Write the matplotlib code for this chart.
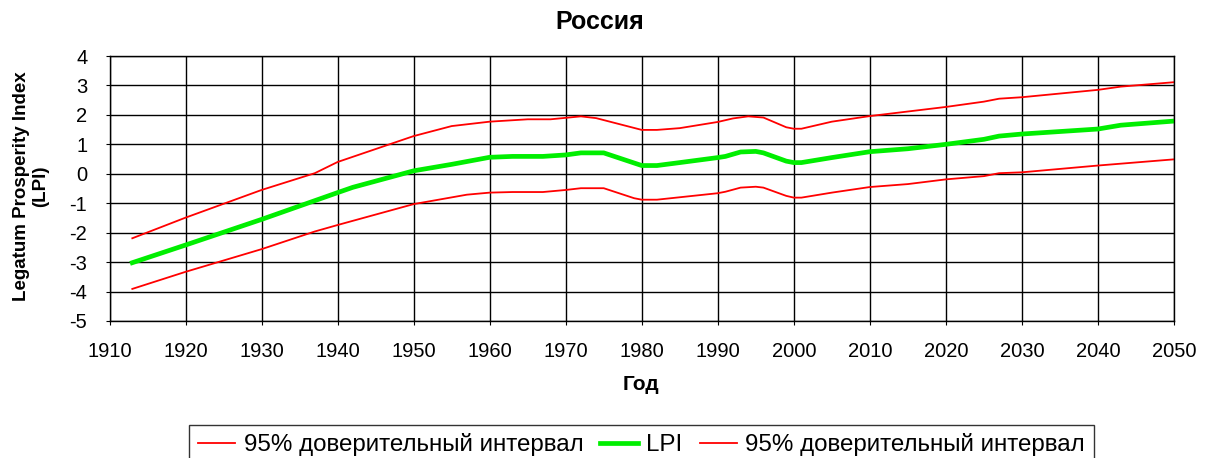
import matplotlib
matplotlib.use("Agg")
import matplotlib.pyplot as plt

plt.rcParams['font.family'] = ['Liberation Sans', 'DejaVu Sans']
plt.rcParams['axes.unicode_minus'] = False

years_lpi = [1913, 1920, 1930, 1940, 1942, 1950, 1955, 1960, 1963, 1967, 1970, 1972, 1975,
             1980, 1982, 1985, 1990, 1991, 1993, 1995, 1996, 1999, 2000, 2001, 2005, 2010,
             2015, 2020, 2025, 2027, 2030, 2040, 2043, 2050]
lpi = [-3.02, -2.42, -1.55, -0.64, -0.46, 0.10, 0.32, 0.56, 0.59, 0.59, 0.64, 0.71, 0.71,
       0.28, 0.28, 0.38, 0.55, 0.59, 0.74, 0.76, 0.71, 0.43, 0.38, 0.38, 0.55, 0.75,
       0.85, 1.00, 1.17, 1.28, 1.35, 1.52, 1.65, 1.79]

years_up = [1913, 1920, 1930, 1937, 1940, 1950, 1955, 1960, 1965, 1968, 1972, 1974, 1980,
            1982, 1985, 1990, 1992, 1994, 1996, 1999, 2000, 2001, 2005, 2010, 2020, 2025,
            2027, 2030, 2040, 2043, 2050]
upper = [-2.19, -1.49, -0.55, 0.02, 0.40, 1.28, 1.62, 1.77, 1.85, 1.85, 1.95, 1.89, 1.49,
         1.49, 1.55, 1.76, 1.88, 1.95, 1.91, 1.58, 1.53, 1.53, 1.77, 1.96, 2.27, 2.45,
         2.55, 2.60, 2.85, 2.96, 3.11]

years_lo = [1913, 1920, 1930, 1937, 1940, 1950, 1957, 1960, 1963, 1967, 1970, 1972, 1975,
            1979, 1980, 1982, 1990, 1991, 1993, 1995, 1996, 1999, 2000, 2001, 2005, 2010,
            2015, 2020, 2025, 2027, 2030, 2040, 2050]
lower = [-3.91, -3.33, -2.56, -1.96, -1.74, -1.03, -0.71, -0.64, -0.62, -0.62, -0.55, -0.49, -0.49,
         -0.83, -0.88, -0.88, -0.66, -0.61, -0.47, -0.44, -0.47, -0.75, -0.81, -0.81, -0.64, -0.45,
         -0.35, -0.19, -0.08, 0.02, 0.05, 0.28, 0.49]

xticks = list(range(1910, 2051, 10))
yticks = list(range(-5, 5))

W, H = 1210, 458
fig = plt.figure(figsize=(12.1, 4.58), dpi=100)
ax = fig.add_axes([109.5 / W, 1 - 321 / H, (1174 - 109.5) / W, (321 - 56) / H])

l1, = ax.plot(years_up, upper, color='#ff0000', lw=1.3, label='95% доверительный интервал')
l2, = ax.plot(years_lpi, lpi, color='#00ee00', lw=3.4, label='LPI')
l3, = ax.plot(years_lo, lower, color='#ff0000', lw=1.3, label='95% доверительный интервал')

ax.set_xlim(1910, 2050)
ax.set_ylim(-5, 4)
ax.set_xticks(xticks)
ax.set_yticks(yticks)
ax.tick_params(axis='both', labelsize=14.5, length=3, direction='out', color='black')
ax.tick_params(axis='x', pad=12)
ax.tick_params(axis='y', pad=13)
ax.grid(True, color='black', lw=1)
ax.set_axisbelow(True)
for s in ax.spines.values():
    s.set_color('black')
    s.set_linewidth(1)

fig.text(600 / W, 1 - 22 / H, 'Россия', fontsize=18, fontweight='bold', ha='center', va='center')
fig.text(641 / W, 1 - 385 / H, 'Год', fontsize=15, fontweight='bold', ha='center', va='center')
fig.text(31 / W, 1 - 186 / H, 'Legatum Prosperity Index\n(LPI)', fontsize=13.5, fontweight='bold',
         rotation=90, ha='center', va='center', multialignment='center', linespacing=1.1)

leg = fig.legend(handles=[l1, l2, l3], loc='upper center', bbox_to_anchor=(641.5 / W, 1 - 425 / H),
                 ncol=3, fontsize=17.4, frameon=True, fancybox=False, edgecolor='black',
                 handlelength=1.55, handletextpad=0.35, columnspacing=0.7, borderpad=0.35,
                 borderaxespad=0)
leg.get_frame().set_linewidth(1)

fig.savefig('out.png', dpi=100)
